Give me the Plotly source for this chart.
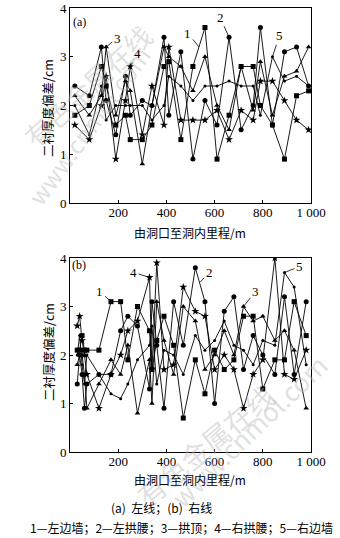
import plotly.graph_objects as go

# ---------------- data: (a) 左线 ----------------
xa = [20, 80, 130, 150, 190, 230, 250, 300, 340, 390, 410, 460, 510, 560,
      610, 660, 710, 760, 790, 840, 890, 940, 990]
a1 = [1.8, 2.0, 2.8, 2.4, 1.6, 1.8, 1.3, 1.3, 1.6, 2.8, 2.9, 1.3, 2.8, 3.6,
      0.9, 1.8, 2.8, 2.8, 2.0, 1.6, 0.9, 2.2, 2.3]
a2 = [2.4, 2.2, 3.2, 2.1, 1.4, 2.6, 1.8, 2.1, 2.0, 3.4, 1.8, 3.1, 0.9, 2.1,
      1.6, 3.4, 1.5, 2.0, 3.6, 1.6, 3.1, 3.2, 2.4]
a3 = [2.2, 1.8, 2.2, 3.2, 1.8, 2.5, 2.3, 0.8, 2.0, 3.2, 3.0, 2.8, 2.3, 3.0,
      2.0, 1.5, 2.8, 1.9, 2.9, 1.8, 2.6, 2.7, 3.2]
a4 = [1.6, 1.3, 2.0, 2.6, 0.9, 2.1, 2.8, 1.4, 2.4, 1.6, 3.2, 1.7, 1.7, 1.7,
      1.9, 1.3, 1.9, 1.7, 2.5, 2.5, 2.1, 1.7, 1.5]
a5 = [2.0, 1.4, 2.4, 1.7, 2.0, 2.0, 2.0, 2.0, 1.7, 2.0, 2.6, 2.4, 2.1, 2.4,
      2.4, 2.5, 2.4, 2.4, 1.8, 3.0, 2.5, 2.6, 2.4]

# ---------------- data: (b) 右线 ----------------
xb = [30, 40, 50, 60, 70, 120, 170, 210, 240, 280, 330, 340, 360, 390, 430,
      470, 520, 560, 600, 640, 680, 720, 760, 800, 850, 890, 930, 980]
b1 = [2.1, 2.1, 2.4, 2.1, 2.1, 2.1, 3.1, 3.1, 1.9, 3.0, 2.5, 1.7, 2.3, 2.8,
      2.2, 0.7, 1.9, 1.2, 2.1, 1.7, 1.9, 2.8, 2.8, 1.3, 1.9, 1.9, 3.1, 2.4]
b2 = [1.4, 2.0, 1.6, 0.9, 1.4, 1.6, 1.6, 2.5, 2.8, 2.6, 1.3, 3.1, 2.2, 0.9,
      3.1, 2.2, 3.8, 3.1, 1.0, 2.9, 3.2, 1.7, 2.4, 2.0, 1.6, 3.2, 1.6, 3.1]
b3 = [1.8, 2.0, 2.0, 1.6, 0.9, 1.4, 1.9, 1.6, 2.2, 0.8, 1.9, 1.0, 3.1, 2.3,
      1.6, 3.0, 2.7, 1.7, 2.0, 2.5, 2.0, 3.0, 2.7, 2.8, 2.3, 2.5, 2.1, 0.9]
b4 = [2.6, 2.8, 2.3, 2.0, 1.6, 0.9, 1.6, 2.0, 2.5, 2.7, 3.6, 1.7, 3.9, 1.7,
      1.8, 3.4, 2.9, 2.8, 1.7, 2.0, 1.7, 0.9, 1.6, 1.9, 4.0, 1.6, 1.5, 2.1]
b5 = [2.0, 2.4, 1.8, 1.4, 2.0, 1.6, 1.2, 1.1, 1.4, 1.9, 2.2, 2.6, 1.4, 2.1,
      2.0, 1.6, 2.4, 2.1, 2.3, 2.7, 2.2, 2.1, 1.8, 2.3, 2.2, 3.7, 3.4, 1.8]

x_ticks = [0, 200, 400, 600, 800, 1000]
x_ticktext = ["", "200", "400", "600", "800", "1 000"]
y_ticks = [0, 1, 2, 3, 4]
y_ticktext = ["0", "1", "2", "3", "4"]

series_labels = ["1", "2", "3", "4", "5"]
xlabel = "由洞口至洞内里程/m"
ylabel = "二衬厚度偏差/cm"
caption1 = "(a)  左线；(b)  右线"
caption2 = "1—左边墙；2—左拱腰；3—拱顶；4—右拱腰；5—右边墙"

FONT = "Liberation Serif, Times New Roman, serif"
CJK = "Noto Sans CJK SC, Liberation Serif, serif"

symbols = ["square", "circle", "triangle-up", "star", "circle"]
sizes = [5, 5, 5, 6, 3]

fig = go.Figure()
for ys, sym, sz in zip([a1, a2, a3, a4, a5], symbols, sizes):
    fig.add_trace(go.Scatter(x=xa, y=ys, mode="lines+markers", xaxis="x", yaxis="y",
                             line=dict(color="black", width=0.9),
                             marker=dict(symbol=sym, size=sz, color="black"),
                             showlegend=False))
for ys, sym, sz in zip([b1, b2, b3, b4, b5], symbols, sizes):
    fig.add_trace(go.Scatter(x=xb, y=ys, mode="lines+markers", xaxis="x2", yaxis="y2",
                             line=dict(color="black", width=0.9),
                             marker=dict(symbol=sym, size=sz, color="black"),
                             showlegend=False))

W, H = 340, 538
xdom = [70 / W, 311 / W]
ydom_a = [1 - 203 / H, 1 - 8 / H]
ydom_b = [1 - 452 / H, 1 - 258 / H]

axcommon = dict(showgrid=False, zeroline=False, showline=True, linecolor="black",
                linewidth=1, mirror=True, ticks="inside", ticklen=3, tickcolor="black",
                automargin=False,
                tickfont=dict(family=FONT, size=13, color="black"))

fig.update_layout(
    width=W, height=H, margin=dict(l=0, r=0, t=0, b=0, pad=0), autosize=False,
    paper_bgcolor="white", plot_bgcolor="white",
    xaxis=dict(domain=xdom, range=[0, 1000], anchor="y", tickvals=x_ticks,
               ticktext=x_ticktext, ticklabelstandoff=-3, **axcommon),
    yaxis=dict(domain=ydom_a, range=[0, 4], anchor="x", tickvals=y_ticks,
               ticktext=y_ticktext, **axcommon),
    xaxis2=dict(domain=xdom, range=[0, 1000], anchor="y2", tickvals=x_ticks,
                ticktext=x_ticktext, ticklabelstandoff=-3, **axcommon),
    yaxis2=dict(domain=ydom_b, range=[0, 4], anchor="x2", tickvals=y_ticks,
                ticktext=y_ticktext, **axcommon),
)

ann = []
def px2paper(px, py):
    return px / W, 1 - py / H

def txt_ann(text, px, py, font, angle=0):
    x, y = px2paper(px, py)
    return dict(x=x, y=y, xref="paper", yref="paper", text=text, showarrow=False,
                xanchor="center", yanchor="middle", textangle=angle, font=font)

# faint watermark (drawn first, underneath other annotations)
wm = [("有色金属在线", (88, 86), -43, 27), ("www.cnmol.com", (88, 125), -54, 24),
      ("有色金属在线", (205, 445), -40, 28), ("www.cnmol.com", (248, 430), -44, 26)]
for t, (tx, ty), ang, fs in wm:
    ann.append(txt_ann(t, tx, ty, dict(family=CJK, size=fs, color="rgba(185,185,185,0.45)"), ang))

# axis titles
for ty in [232, 479]:
    ann.append(txt_ann(xlabel, 190, ty, dict(family=CJK, size=12, color="black")))
for ty in [108, 352]:
    ann.append(txt_ann(ylabel, 48, ty, dict(family=CJK, size=12.5, color="black"), -90))
# panel tags
for tag, (tx, ty) in [("(a)", (79, 22)), ("(b)", (79, 265))]:
    ann.append(txt_ann(tag, tx, ty, dict(family=FONT, size=12, color="black")))
# captions
ann.append(txt_ann(caption1, 161, 507, dict(family=CJK, size=12, color="black")))
ann.append(txt_ann(caption2, 181, 527, dict(family=CJK, size=12, color="black")))

# series leader labels
lead_a = [("1", 535, 3.2, -11, -14), ("2", 660, 3.4, -9, -20), ("3", 150, 3.2, 11, -9),
          ("4", 250, 2.8, 7, -13), ("5", 840, 3.0, 7, -21)]
for t, x, y, dx, dy in lead_a:
    ann.append(dict(x=x, y=y, xref="x", yref="y", text=t, showarrow=True, arrowhead=0,
                    arrowwidth=0.8, arrowcolor="black", ax=dx, ay=dy,
                    font=dict(family=FONT, size=13, color="black")))
lead_b = [("4", 330, 3.6, -16, -5), ("1", 170, 3.1, -11, -10), ("2", 540, 3.5, 9, -10),
          ("3", 720, 3.0, 12, -15), ("5", 890, 3.7, 15, -6)]
for t, x, y, dx, dy in lead_b:
    ann.append(dict(x=x, y=y, xref="x2", yref="y2", text=t, showarrow=True, arrowhead=0,
                    arrowwidth=0.8, arrowcolor="black", ax=dx, ay=dy,
                    font=dict(family=FONT, size=13, color="black")))

fig.update_layout(annotations=ann)
fig.write_html("out.html")
